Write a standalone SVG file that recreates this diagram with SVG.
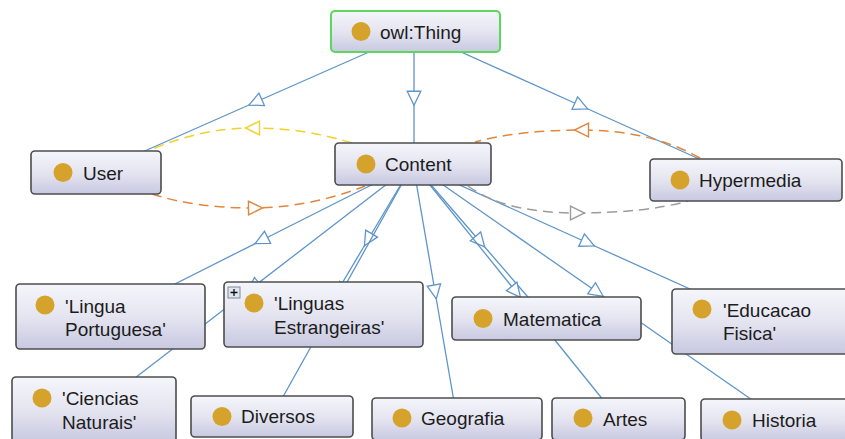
<svg xmlns="http://www.w3.org/2000/svg" width="845" height="439" viewBox="0 0 845 439">
  <style>
    .box { fill: url(#nodeFill); stroke: #4d4d4d; stroke-width: 1.6; }
    .root { fill: url(#nodeFill); stroke: #5ad85a; stroke-width: 2; }
    .dot { fill: #d5a32c; }
    .lbl { font-family: "Liberation Sans", Arial, sans-serif; font-size: 19px; fill: #1c1c1c; }
    .isa { fill: none; stroke: #5e95c9; stroke-width: 1.3; marker-mid: url(#hollowBlue); }
    .rel { fill: none; stroke-width: 1.5; stroke-dasharray: 10 6; }
    .yellow { stroke: #f2d12a; marker-mid: url(#hollowYellow); }
    .orange { stroke: #e0873e; marker-mid: url(#hollowOrange); }
    .grey { stroke: #9c9c9c; marker-mid: url(#hollowGrey); }
  </style>
  <defs>
    <linearGradient id="nodeFill" x1="0" y1="0" x2="0" y2="1">
      <stop offset="0" stop-color="#f5f5fb"/>
      <stop offset="0.5" stop-color="#e5e5f1"/>
      <stop offset="1" stop-color="#c8c8e1"/>
    </linearGradient>
    <marker id="hollowBlue" markerUnits="userSpaceOnUse" viewBox="0 0 16 16" refX="7.5" refY="8" markerWidth="16" markerHeight="16" orient="auto" overflow="visible">
      <path d="M1,1.2 L15,8 L1,14.8 Z" fill="#ffffff" stroke="#5e95c9" stroke-width="1.3"/>
    </marker>
    <marker id="hollowYellow" markerUnits="userSpaceOnUse" viewBox="0 0 16 16" refX="7.5" refY="8" markerWidth="16" markerHeight="16" orient="auto" overflow="visible">
      <path d="M1,1.2 L15,8 L1,14.8 Z" fill="#ffffff" stroke="#f2d12a" stroke-width="1.4"/>
    </marker>
    <marker id="hollowOrange" markerUnits="userSpaceOnUse" viewBox="0 0 16 16" refX="7.5" refY="8" markerWidth="16" markerHeight="16" orient="auto" overflow="visible">
      <path d="M1,1.2 L15,8 L1,14.8 Z" fill="#ffffff" stroke="#e0873e" stroke-width="1.4"/>
    </marker>
    <marker id="hollowGrey" markerUnits="userSpaceOnUse" viewBox="0 0 16 16" refX="7.5" refY="8" markerWidth="16" markerHeight="16" orient="auto" overflow="visible">
      <path d="M1,1.2 L15,8 L1,14.8 Z" fill="#ffffff" stroke="#9c9c9c" stroke-width="1.4"/>
    </marker>
  </defs>
  <rect width="845" height="439" fill="#ffffff"/>

  <!-- connectors: subclass edges run centre to centre, arrow at the midpoint -->
  <g id="connectors">
    <path class="isa" d="M415.5,31.5 L255.75,102 L96,172.5"/>
    <path class="isa" d="M414,31.5 L414,97.75 L414,164"/>
    <path class="isa" d="M415.5,31.5 L580.75,105.75 L746,180"/>

    <path class="isa" d="M413,164 L261.75,240.25 L110.5,316.5"/>
    <path class="isa" d="M413,164 L253.5,286.75 L94,409.5"/>
    <path class="isa" d="M413,164 L368.25,239.25 L323.5,314.5"/>
    <path class="isa" d="M413,164 L342.5,290.25 L272,416.5"/>
    <path class="isa" d="M413,164 L435,291.5 L457,419"/>
    <path class="isa" d="M413,164 L479.75,241.25 L546.5,318.5"/>
    <path class="isa" d="M413,164 L515.75,291.5 L618.5,419"/>
    <path class="isa" d="M413,164 L597,292 L781,420"/>
    <path class="isa" d="M413,164 L587.5,242.75 L762,321.5"/>

    <!-- object property arcs -->
    <path class="rel yellow" d="M352,143 Q305,128 253,128 Q200,128 148,151"/>
    <path class="rel orange" d="M700,158 Q650,130 582,130 Q520,130 475,142"/>
    <path class="rel orange" d="M152,194 Q195,208 255,208 Q312,207 365,186"/>
    <path class="rel grey" d="M468,186 Q505,213 577,213 Q645,213 688,201"/>
  </g>

  <g id="owl-thing">
    <rect class="root" x="331" y="11" width="169" height="41" rx="4"/>
    <circle class="dot" cx="361" cy="31.5" r="9.5"/>
    <text class="lbl" x="380" y="38.5">owl:Thing</text>
  </g>
  <g id="user">
    <rect class="box" x="31" y="151" width="130" height="43" rx="4"/>
    <circle class="dot" cx="63" cy="172.5" r="9.5"/>
    <text class="lbl" x="83" y="179.5">User</text>
  </g>
  <g id="content">
    <rect class="box" x="335" y="143" width="156" height="42" rx="4"/>
    <circle class="dot" cx="366" cy="164" r="9.5"/>
    <text class="lbl" x="385" y="171">Content</text>
  </g>
  <g id="hypermedia">
    <rect class="box" x="650" y="159" width="192" height="42" rx="4"/>
    <circle class="dot" cx="680" cy="180" r="9.5"/>
    <text class="lbl" x="699" y="187">Hypermedia</text>
  </g>
  <g id="lingua-portuguesa">
    <rect class="box" x="16" y="284" width="189" height="65" rx="4"/>
    <circle class="dot" cx="45" cy="305" r="9.5"/>
    <text class="lbl" x="65" y="312.5">'Lingua</text>
    <text class="lbl" x="65" y="336">Portuguesa'</text>
  </g>
  <g id="linguas-estrangeiras">
    <rect class="box" x="224" y="282" width="199" height="65" rx="4"/>
    <rect x="228" y="287" width="12" height="11" fill="#dfe6f0" stroke="#7d8a99" stroke-width="1"/>
    <path d="M230.5,292.5 H237.5 M234,289 V296" stroke="#111111" stroke-width="1.3"/>
    <circle class="dot" cx="254" cy="303" r="9.5"/>
    <text class="lbl" x="274" y="310">'Linguas</text>
    <text class="lbl" x="274" y="333.5">Estrangeiras'</text>
  </g>
  <g id="matematica">
    <rect class="box" x="452" y="297" width="189" height="43" rx="4"/>
    <circle class="dot" cx="483" cy="318.5" r="9.5"/>
    <text class="lbl" x="503" y="325.5">Matematica</text>
  </g>
  <g id="educacao-fisica">
    <rect class="box" x="672" y="289" width="180" height="65" rx="4"/>
    <circle class="dot" cx="702" cy="309" r="9.5"/>
    <text class="lbl" x="723" y="316.5">'Educacao</text>
    <text class="lbl" x="723" y="340">Fisica'</text>
  </g>
  <g id="ciencias-naturais">
    <rect class="box" x="12" y="377" width="164" height="65" rx="4"/>
    <circle class="dot" cx="42" cy="398" r="9.5"/>
    <text class="lbl" x="62" y="405">'Ciencias</text>
    <text class="lbl" x="62" y="428.5">Naturais'</text>
  </g>
  <g id="diversos">
    <rect class="box" x="191" y="396" width="162" height="41" rx="4"/>
    <circle class="dot" cx="222" cy="416.5" r="9.5"/>
    <text class="lbl" x="241" y="423">Diversos</text>
  </g>
  <g id="geografia">
    <rect class="box" x="372" y="398" width="170" height="42" rx="4"/>
    <circle class="dot" cx="402" cy="418" r="9.5"/>
    <text class="lbl" x="421" y="425">Geografia</text>
  </g>
  <g id="artes">
    <rect class="box" x="552" y="398" width="133" height="42" rx="4"/>
    <circle class="dot" cx="583" cy="418" r="9.5"/>
    <text class="lbl" x="603" y="425.5">Artes</text>
  </g>
  <g id="historia">
    <rect class="box" x="701" y="399" width="160" height="42" rx="4"/>
    <circle class="dot" cx="732" cy="420" r="9.5"/>
    <text class="lbl" x="752" y="427">Historia</text>
  </g>
</svg>
